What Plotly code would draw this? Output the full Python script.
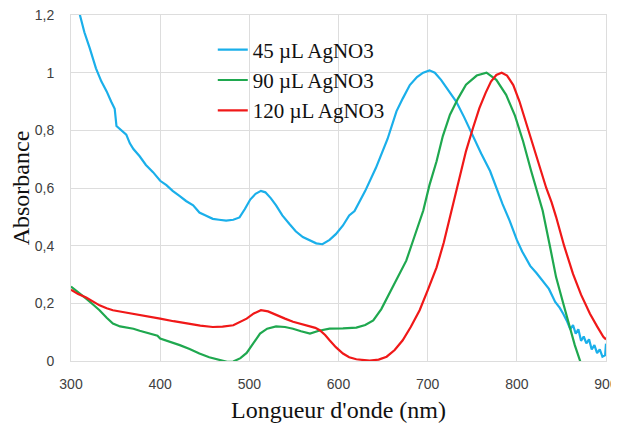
import plotly.graph_objects as go

# 45 µL AgNO3 (blue)
wl_45 = [300, 305, 310, 315, 321, 328, 334, 340, 345, 349, 351, 356, 362, 366, 370, 377, 384, 392,
         400, 407, 414, 422, 429, 437, 444, 451, 459, 466, 474, 482, 489, 495, 501, 507, 513, 518,
         524, 530, 537, 545, 552, 560, 568, 575, 582, 590, 597, 605, 612, 618, 630, 642, 655, 665,
         672, 680, 688, 695, 702, 708, 715, 724, 732, 741, 750, 760, 770, 777, 784, 792, 800, 806,
         815, 822, 829, 836, 843, 848, 852, 856, 860, 863, 866, 869, 872, 875, 878, 881, 884, 887,
         890, 893, 896, 899, 900]
abs_45 = [1.31, 1.26, 1.20, 1.14, 1.085, 1.015, 0.97, 0.935, 0.90, 0.875, 0.815, 0.80, 0.785, 0.755,
          0.735, 0.71, 0.68, 0.655, 0.625, 0.61, 0.59, 0.572, 0.555, 0.54, 0.515, 0.505, 0.493, 0.49,
          0.487, 0.49, 0.498, 0.527, 0.56, 0.58, 0.59, 0.585, 0.565, 0.54, 0.505, 0.475, 0.45, 0.43,
          0.417, 0.408, 0.405, 0.42, 0.44, 0.47, 0.505, 0.52, 0.59, 0.67, 0.77, 0.866, 0.91, 0.957,
          0.985, 1.0, 1.008, 1.0, 0.975, 0.935, 0.9, 0.845, 0.785, 0.72, 0.659, 0.6, 0.544, 0.486,
          0.42, 0.38, 0.33, 0.305, 0.279, 0.25, 0.205, 0.185, 0.164, 0.14, 0.11, 0.125, 0.095, 0.11,
          0.07, 0.085, 0.061, 0.075, 0.04, 0.055, 0.027, 0.04, 0.015, 0.02, 0.06]

# 90 µL AgNO3 (green)
wl_90 = [300, 310, 317, 325, 332, 340, 347, 355, 362, 370, 377, 385, 393, 397, 400, 410, 422, 433,
         444, 455, 467, 475, 482, 490, 497, 504, 512, 520, 530, 540, 549, 558, 568, 578, 590, 605,
         620, 630, 639, 648, 657, 666, 676, 685, 695, 702, 710, 717, 725, 734, 743, 755, 766, 777,
         788, 798, 807, 816, 826, 829, 837, 844, 852, 859, 865, 871, 880]
abs_90 = [0.258, 0.235, 0.216, 0.195, 0.176, 0.15, 0.13, 0.12, 0.116, 0.112, 0.105, 0.098, 0.092,
          0.088, 0.078, 0.068, 0.055, 0.042, 0.026, 0.013, 0.002, -0.003, -0.002, 0.01, 0.028, 0.06,
          0.095, 0.112, 0.12, 0.118, 0.112, 0.103, 0.095, 0.105, 0.112, 0.113, 0.116, 0.125, 0.141,
          0.18, 0.233, 0.29, 0.348, 0.43, 0.521, 0.61, 0.693, 0.78, 0.854, 0.91, 0.958, 0.99, 1.0,
          0.975, 0.923, 0.85, 0.762, 0.66, 0.555, 0.521, 0.4, 0.291, 0.2, 0.118, 0.055, 0.0, -0.09]

# 120 µL AgNO3 (red)
wl_120 = [300, 308, 317, 325, 332, 340, 347, 358, 370, 385, 400, 415, 430, 445, 459, 470, 482, 490,
          497, 505, 513, 521, 530, 540, 549, 558, 568, 574, 579, 585, 590, 597, 605, 612, 620, 635,
          645, 654, 663, 672, 681, 691, 700, 710, 718, 725, 735, 743, 751, 758, 765, 771, 777, 783,
          789, 796, 803, 811, 818, 826, 833, 839, 844, 853, 863, 872, 882, 890, 897, 900]
abs_120 = [0.247, 0.232, 0.22, 0.205, 0.193, 0.183, 0.176, 0.17, 0.164, 0.155, 0.147, 0.138, 0.13,
           0.123, 0.118, 0.119, 0.124, 0.135, 0.147, 0.165, 0.176, 0.172, 0.159, 0.147, 0.136, 0.128,
           0.121, 0.115, 0.107, 0.09, 0.072, 0.048, 0.026, 0.013, 0.006, 0.001, 0.005, 0.015, 0.038,
           0.072, 0.118, 0.176, 0.245, 0.325, 0.41, 0.498, 0.63, 0.728, 0.81, 0.877, 0.93, 0.969,
           0.992, 1.0, 0.99, 0.957, 0.9, 0.82, 0.745, 0.67, 0.6, 0.55, 0.5, 0.4, 0.302, 0.23, 0.164,
           0.12, 0.084, 0.075]

series_names = ["45 µL AgNO3", "90 µL AgNO3", "120 µL AgNO3"]
series_colors = ["#1AAFEA", "#1FA84F", "#F01818"]

x_ticks = [300, 400, 500, 600, 700, 800, 900]
y_ticks = [0, 0.2, 0.4, 0.6, 0.8, 1.0, 1.2]
y_tick_labels = ["0", "0,2", "0,4", "0,6", "0,8", "1", "1,2"]

fig = go.Figure()
for wl, ab, name, col in zip([wl_45, wl_90, wl_120], [abs_45, abs_90, abs_120],
                             series_names, series_colors):
    fig.add_trace(go.Scatter(x=wl, y=ab, mode="lines", name=name,
                             line=dict(color=col, width=2.2)))

serif = "Liberation Serif, Times New Roman, serif"
sans = "Liberation Sans, Arial, sans-serif"
grid = "#DDDDDD"

# the page body adds an 8px margin; the figure is offset by it
fig.update_layout(
    width=611, height=415,
    margin=dict(l=63, r=13, t=7, b=62, autoexpand=False),
    paper_bgcolor="white", plot_bgcolor="white",
    separators=", ",
    showlegend=True,
    legend=dict(x=0.265, xanchor="left", y=0.958, yanchor="top",
                bgcolor="rgba(0,0,0,0)", font=dict(family=serif, size=21, color="#111111"),
                tracegroupgap=0),
    xaxis=dict(range=[300, 900], tickvals=x_ticks, showgrid=True, gridcolor=grid,
               gridwidth=1, zeroline=False, showline=True, mirror=True, linecolor=grid,
               ticks="", ticklabelstandoff=10, automargin=False, ticklabeloverflow="allow",
               tickfont=dict(family=sans, size=14, color="#404040"),
               title=dict(text="Longueur d'onde (nm)", font=dict(family=serif, size=24, color="#111111"),
                          standoff=11)),
    yaxis=dict(range=[0, 1.2], tickvals=y_ticks, ticktext=y_tick_labels, showgrid=True,
               gridcolor=grid, gridwidth=1, zeroline=False, showline=True, mirror=True,
               linecolor=grid, ticks="", ticklabelstandoff=13, automargin=False,
               ticklabeloverflow="allow",
               tickfont=dict(family=sans, size=14, color="#404040"),
               title=dict(text="Absorbance", font=dict(family=serif, size=24, color="#111111"),
                          standoff=7)),
)

fig.write_html("out.html")
